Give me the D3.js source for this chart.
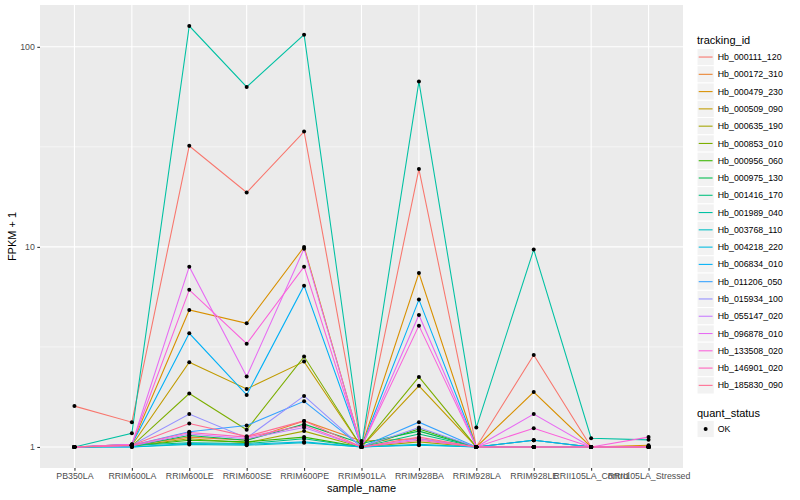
<!DOCTYPE html>
<html>
<head>
<meta charset="utf-8">
<script src="https://cdn.jsdelivr.net/npm/d3@7"></script>
<style>
  body { margin: 0; background: #fff; }
  text { font-family: "Liberation Sans", Arial, sans-serif; }
</style>
</head>
<body>
<svg id="svg" width="800" height="500"></svg>
<script>
// samples on the x axis
const samples = ["PB350LA", "RRIM600LA", "RRIM600LE", "RRIM600SE", "RRIM600PE", "RRIM901LA",
  "RRIM928BA", "RRIM928LA", "RRIM928LE", "RRII105LA_Control", "RRII105LA_Stressed"];

const trackingIds = ["Hb_000111_120", "Hb_000172_310", "Hb_000479_230", "Hb_000509_090", "Hb_000635_190",
  "Hb_000853_010", "Hb_000956_060", "Hb_000975_130", "Hb_001416_170", "Hb_001989_040",
  "Hb_003768_110", "Hb_004218_220", "Hb_006834_010", "Hb_011206_050", "Hb_015934_100",
  "Hb_055147_020", "Hb_096878_010", "Hb_133508_020", "Hb_146901_020", "Hb_185830_090"];

// FPKM + 1, one row per tracking id, one value per sample
const fpkm = [
  [1.6, 1.33, 32, 18.7, 37.7, 1.0, 24.5, 1.0, 2.88, 1.0, 1.0],
  [1.0, 1.02, 1.12, 1.08, 1.35, 1.07, 1.1, 1.0, 1.0, 1.0, 1.0],
  [1.0, 1.03, 4.84, 4.15, 10.0, 1.0, 7.4, 1.0, 1.88, 1.0, 1.02],
  [1.0, 1.02, 2.65, 1.95, 2.67, 1.0, 2.02, 1.0, 1.08, 1.0, 1.0],
  [1.0, 1.01, 1.1, 1.05, 1.2, 1.0, 1.06, 1.0, 1.0, 1.0, 1.0],
  [1.0, 1.01, 1.85, 1.22, 2.83, 1.0, 2.24, 1.0, 1.0, 1.0, 1.0],
  [1.0, 1.01, 1.08, 1.06, 1.12, 1.0, 1.23, 1.0, 1.0, 1.0, 1.0],
  [1.0, 1.01, 1.14, 1.08, 1.3, 1.04, 1.2, 1.0, 1.0, 1.0, 1.0],
  [1.0, 1.02, 1.05, 1.04, 1.1, 1.0, 1.16, 1.0, 1.0, 1.0, 1.0],
  [1.0, 1.17, 127, 63, 115, 1.0, 67, 1.25, 9.7, 1.105, 1.085],
  [1.0, 1.0, 1.03, 1.02, 1.05, 1.0, 1.03, 1.0, 1.0, 1.0, 1.0],
  [1.0, 1.0, 1.04, 1.03, 1.06, 1.0, 1.02, 1.0, 1.08, 1.0, 1.0],
  [1.0, 1.03, 3.7, 1.82, 6.4, 1.0, 5.45, 1.0, 1.08, 1.0, 1.0],
  [1.0, 1.02, 1.19, 1.28, 1.69, 1.0, 1.33, 1.0, 1.0, 1.0, 1.0],
  [1.0, 1.02, 1.46, 1.11, 1.8, 1.0, 1.25, 1.0, 1.0, 1.0, 1.0],
  [1.0, 1.01, 1.16, 1.1, 1.25, 1.0, 1.1, 1.0, 1.0, 1.0, 1.0],
  [1.0, 1.03, 7.96, 2.25, 9.8, 1.0, 4.57, 1.0, 1.46, 1.0, 1.0],
  [1.0, 1.03, 6.1, 3.28, 7.96, 1.0, 4.04, 1.0, 1.24, 1.0, 1.12],
  [1.0, 1.02, 1.18, 1.12, 1.28, 1.0, 1.08, 1.0, 1.0, 1.0, 1.0],
  [1.0, 1.02, 1.31, 1.13, 1.35, 1.0, 1.12, 1.0, 1.0, 1.0, 1.0]
];

const yTicks = [1, 10, 100];
const yMinor = [Math.sqrt(10), Math.sqrt(1000)];
const statusLevels = ["OK"];

// ggplot hue palette, 20 levels
const palette = ["#F8766D", "#EA8331", "#D89000", "#C09B00", "#A3A500", "#7CAE00", "#39B600", "#00BB4E",
  "#00BF7D", "#00C1A3", "#00BFC4", "#00BAE0", "#00B0F6", "#35A2FF", "#9590FF", "#C77CFF",
  "#E76BF3", "#FA62DB", "#FF62BC", "#FF6C91"];

const panel = { left: 40, right: 683, top: 5, bottom: 468 };
const svg = d3.select("svg");

const x = d3.scalePoint().domain(samples).range([panel.left, panel.right]).padding(0.6);

// log scale with ggplot's 5% expansion
const allVals = fpkm.flat();
const lo = Math.log10(d3.min(allVals)), hi = Math.log10(d3.max(allVals));
const pad = (hi - lo) * 0.05;
const y = d3.scaleLog().domain([Math.pow(10, lo - pad), Math.pow(10, hi + pad)]).range([panel.bottom, panel.top]);

const color = d3.scaleOrdinal().domain(trackingIds).range(palette);

// panel background + grid
svg.append("rect")
  .attr("x", panel.left).attr("y", panel.top)
  .attr("width", panel.right - panel.left).attr("height", panel.bottom - panel.top)
  .attr("fill", "#EBEBEB");

svg.selectAll(".minor").data(yMinor).enter().append("line")
  .attr("x1", panel.left).attr("x2", panel.right)
  .attr("y1", d => y(d)).attr("y2", d => y(d))
  .attr("stroke", "#fff").attr("stroke-width", 0.55);

svg.selectAll(".ymajor").data(yTicks).enter().append("line")
  .attr("x1", panel.left).attr("x2", panel.right)
  .attr("y1", d => y(d)).attr("y2", d => y(d))
  .attr("stroke", "#fff").attr("stroke-width", 1.1);

svg.selectAll(".xmajor").data(samples).enter().append("line")
  .attr("x1", d => x(d)).attr("x2", d => x(d))
  .attr("y1", panel.top).attr("y2", panel.bottom)
  .attr("stroke", "#fff").attr("stroke-width", 1.1);

// lines
const line = d3.line()
  .x((d, i) => x(samples[i]))
  .y(d => y(d));

const plot = svg.append("g");
plot.selectAll(".series").data(fpkm).enter().append("path")
  .attr("d", line)
  .attr("fill", "none")
  .attr("stroke", (d, i) => color(trackingIds[i]))
  .attr("stroke-width", 1.07);

// points
fpkm.forEach(function(row) {
  plot.append("g").selectAll("circle").data(row).enter().append("circle")
    .attr("cx", (d, i) => x(samples[i]))
    .attr("cy", d => y(d))
    .attr("r", 2)
    .attr("fill", "#000");
});

// axes
const xAxis = svg.append("g")
  .attr("transform", "translate(0," + panel.bottom + ")")
  .call(d3.axisBottom(x).tickSize(2.7).tickPadding(2.5));
const yAxis = svg.append("g")
  .attr("transform", "translate(" + panel.left + ",0)")
  .call(d3.axisLeft(y).tickValues(yTicks).tickFormat(d3.format("d")).tickSize(2.7).tickPadding(2.5));

[xAxis, yAxis].forEach(function(a) {
  a.select(".domain").remove();
  a.selectAll(".tick line").attr("stroke", "#333").attr("stroke-width", 1.07);
  a.selectAll(".tick text").attr("fill", "#4D4D4D").style("font-size", "8.8px")
    .style("font-family", "'Liberation Sans', Arial, sans-serif");
});

svg.append("text")
  .attr("x", (panel.left + panel.right) / 2).attr("y", 492)
  .attr("text-anchor", "middle").style("font-size", "11px")
  .text("sample_name");

svg.append("text")
  .attr("transform", "translate(16," + ((panel.top + panel.bottom) / 2) + ") rotate(-90)")
  .attr("text-anchor", "middle").style("font-size", "11px")
  .text("FPKM + 1");

// legend: tracking_id
const keySize = 17.28;
const legX = 697;
const leg = svg.append("g");
leg.append("text").attr("x", legX).attr("y", 44).style("font-size", "11px").text("tracking_id");

const keys = leg.selectAll(".key").data(trackingIds).enter().append("g")
  .attr("transform", (d, i) => "translate(" + legX + "," + (48.4 + i * keySize) + ")");
keys.append("rect").attr("width", keySize).attr("height", keySize)
  .attr("fill", "#F2F2F2").attr("stroke", "#fff").attr("stroke-width", 1);
keys.append("line")
  .attr("x1", 1.7).attr("x2", keySize - 1.7)
  .attr("y1", keySize / 2).attr("y2", keySize / 2)
  .attr("stroke", d => color(d)).attr("stroke-width", 1.07);
keys.append("text")
  .attr("x", keySize + 3.5).attr("y", keySize / 2).attr("dy", "0.35em")
  .style("font-size", "8.8px").text(d => d);

// legend: quant_status
leg.append("text").attr("x", legX).attr("y", 417).style("font-size", "11px").text("quant_status");
const sKeys = leg.selectAll(".skey").data(statusLevels).enter().append("g")
  .attr("transform", (d, i) => "translate(" + legX + "," + (420.4 + i * keySize) + ")");
sKeys.append("rect").attr("width", keySize).attr("height", keySize)
  .attr("fill", "#F2F2F2").attr("stroke", "#fff").attr("stroke-width", 1);
sKeys.append("circle").attr("cx", keySize / 2).attr("cy", keySize / 2).attr("r", 2).attr("fill", "#000");
sKeys.append("text")
  .attr("x", keySize + 3.5).attr("y", keySize / 2).attr("dy", "0.35em")
  .style("font-size", "8.8px").text(d => d);
</script>
</body>
</html>
